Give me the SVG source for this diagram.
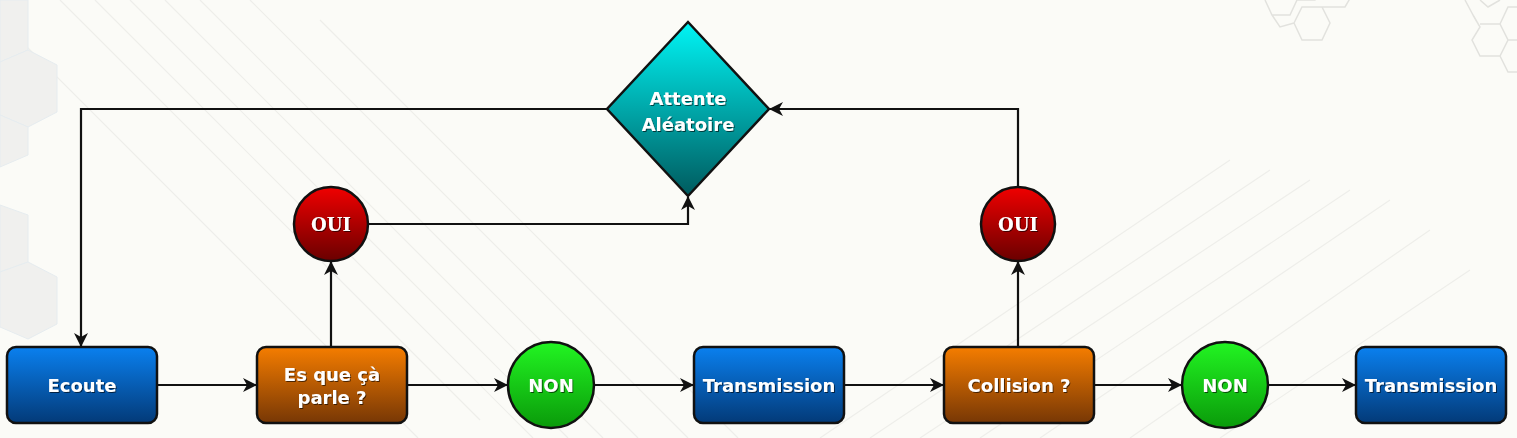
<svg xmlns="http://www.w3.org/2000/svg" width="1517" height="438" viewBox="0 0 1517 438">
  <defs>
    <linearGradient id="gBlue" x1="0" y1="0" x2="0" y2="1">
      <stop offset="0" stop-color="#0a80ef"/>
      <stop offset="1" stop-color="#033a78"/>
    </linearGradient>
    <linearGradient id="gOrange" x1="0" y1="0" x2="0" y2="1">
      <stop offset="0" stop-color="#f57d00"/>
      <stop offset="1" stop-color="#773705"/>
    </linearGradient>
    <linearGradient id="gGreen" x1="0" y1="0" x2="0" y2="1">
      <stop offset="0" stop-color="#22f522"/>
      <stop offset="1" stop-color="#0a9a0a"/>
    </linearGradient>
    <linearGradient id="gRed" x1="0" y1="0" x2="0" y2="1">
      <stop offset="0" stop-color="#f00000"/>
      <stop offset="1" stop-color="#6a0000"/>
    </linearGradient>
    <linearGradient id="gTeal" x1="0" y1="0" x2="0" y2="1">
      <stop offset="0" stop-color="#00f5f5"/>
      <stop offset="1" stop-color="#005a5e"/>
    </linearGradient>
    <marker id="arr" viewBox="0 0 14 14" refX="13" refY="7" markerWidth="14" markerHeight="14" markerUnits="userSpaceOnUse" orient="auto">
      <path d="M0,0 L14,7 L0,14 L4,7 Z" fill="#111"/>
    </marker>
    <filter id="ts" x="-10%" y="-10%" width="130%" height="140%">
      <feDropShadow dx="1" dy="1" stdDeviation="0.6" flood-color="#000" flood-opacity="0.6"/>
    </filter>
  </defs>
  <style>
    .node { stroke: #111; stroke-width: 2.5; }
    .lbl { font-family: "DejaVu Sans", Verdana, sans-serif; font-weight: bold; font-size: 18px; fill: #fff; text-anchor: middle; filter: url(#ts); }
    .con { fill: none; stroke: #111; stroke-width: 2.2; marker-end: url(#arr); }
    .bgl { stroke: #eeeeea; stroke-width: 1.2; fill: none; }
    .hex { stroke: #e2e2de; stroke-width: 1.5; fill: none; }
  </style>

  <rect width="1517" height="438" fill="#fbfbf7"/>
  <g id="background">
    <path class="bgl" d="M60,0 L480,420 M95,0 L533,438 M130,0 L568,438 M165,0 L603,438 M200,0 L638,438 M250,0 L688,438 M320,20 L738,438 M0,20 L418,438"/>
    <path class="bgl" d="M820,438 L1230,160 M870,438 L1270,170 M920,438 L1310,180 M980,438 L1350,190 M1040,438 L1390,200 M1130,438 L1430,230 M1220,438 L1470,270"/>
    <g fill="#f0f0ee" stroke="#e6ecef">
      <polygon points="0,0 28,0 28,50 0,62"/>
      <polygon points="0,62 28,50 57,65 57,112 28,127 0,115"/>
      <polygon points="0,115 28,127 28,155 0,167"/>
      <polygon points="0,205 28,215 28,262 0,272"/>
      <polygon points="0,272 28,262 57,277 57,324 28,339 0,327"/>
    </g>
    <path class="hex" d="M1265,0 L1272,15 L1290,15 L1297,0 M1297,0 L1315,0 L1322,-13 M1290,15 L1297,0 M1272,15 L1280,27 L1294,23 M1294,23 L1302,40 L1322,40 L1330,23 L1322,7 L1302,7 L1294,23 M1322,7 L1345,7 L1352,-5"/>
    <path class="hex" d="M1465,0 L1473,15 M1473,15 L1480,27 L1472,40 L1480,56 L1500,56 L1508,40 L1500,24 L1480,24 M1500,24 L1508,7 L1517,7 M1508,40 L1517,40 M1500,56 L1508,72 L1517,72 M1480,0 L1488,7 L1500,0"/>
  </g>

  <g id="connectors">
    <line class="con" x1="157" y1="385" x2="256" y2="385"/>
    <line class="con" x1="407" y1="385" x2="507" y2="385"/>
    <line class="con" x1="594" y1="385" x2="693" y2="385"/>
    <line class="con" x1="844" y1="385" x2="943" y2="385"/>
    <line class="con" x1="1094" y1="385" x2="1181" y2="385"/>
    <line class="con" x1="1268" y1="385" x2="1355" y2="385"/>
    <line class="con" x1="331" y1="347" x2="331" y2="262"/>
    <polyline class="con" points="369,224 688,224 688,197"/>
    <polyline class="con" points="607,109 81,109 81,346"/>
    <line class="con" x1="1018" y1="347" x2="1018" y2="262"/>
    <polyline class="con" points="1018,187 1018,109 770,109"/>
  </g>

  <g id="ecoute">
    <rect class="node" x="7" y="347" width="150" height="76" rx="9" fill="url(#gBlue)"/>
    <text class="lbl" x="82" y="392">Ecoute</text>
  </g>
  <g id="esquecaparle">
    <rect class="node" x="257" y="347" width="150" height="76" rx="9" fill="url(#gOrange)"/>
    <text class="lbl" x="332" y="381">Es que çà</text>
    <text class="lbl" x="332" y="404">parle ?</text>
  </g>
  <g id="non1">
    <circle class="node" cx="551" cy="385" r="43" fill="url(#gGreen)"/>
    <text class="lbl" x="551" y="392">NON</text>
  </g>
  <g id="transmission1">
    <rect class="node" x="694" y="347" width="150" height="76" rx="9" fill="url(#gBlue)"/>
    <text class="lbl" x="769" y="392">Transmission</text>
  </g>
  <g id="collision">
    <rect class="node" x="944" y="347" width="150" height="76" rx="9" fill="url(#gOrange)"/>
    <text class="lbl" x="1019" y="392">Collision ?</text>
  </g>
  <g id="non2">
    <circle class="node" cx="1225" cy="385" r="43" fill="url(#gGreen)"/>
    <text class="lbl" x="1225" y="392">NON</text>
  </g>
  <g id="transmission2">
    <rect class="node" x="1356" y="347" width="150" height="76" rx="9" fill="url(#gBlue)"/>
    <text class="lbl" x="1431" y="392">Transmission</text>
  </g>
  <g id="oui1">
    <circle class="node" cx="331" cy="224" r="37" fill="url(#gRed)"/>
    <text class="lbl" x="331" y="231" style="font-family:'DejaVu Serif','Liberation Serif',serif">OUI</text>
  </g>
  <g id="oui2">
    <circle class="node" cx="1018" cy="224" r="37" fill="url(#gRed)"/>
    <text class="lbl" x="1018" y="231" style="font-family:'DejaVu Serif','Liberation Serif',serif">OUI</text>
  </g>
  <g id="attente">
    <polygon class="node" points="688,22 769,109 688,196 607,109" fill="url(#gTeal)"/>
    <text class="lbl" x="688" y="105">Attente</text>
    <text class="lbl" x="688" y="131">Aléatoire</text>
  </g>
</svg>
